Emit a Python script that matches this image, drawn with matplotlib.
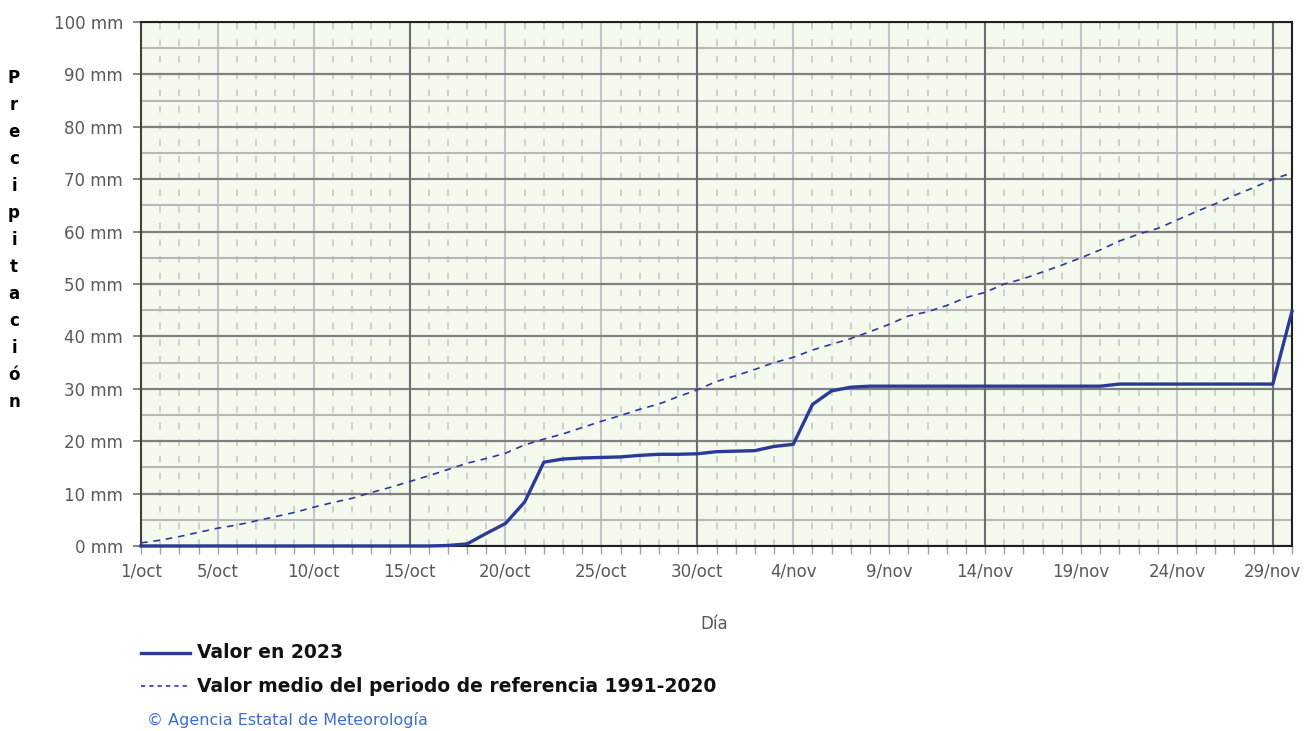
import matplotlib
matplotlib.use("Agg")
import matplotlib.pyplot as plt
from matplotlib.ticker import MultipleLocator, FixedLocator
from matplotlib.lines import Line2D

# ---------------- data ----------------
days = list(range(61))  # 0 = 1/oct ... 60 = 30/nov

valor_2023 = [0.0, 0.0, 0.0, 0.0, 0.0, 0.0, 0.0, 0.0, 0.0, 0.0,
              0.0, 0.0, 0.0, 0.0, 0.0, 0.0, 0.1, 0.4, 2.4, 4.3,
              8.4, 16.0, 16.6, 16.8, 16.9, 17.0, 17.3, 17.5, 17.5, 17.6,
              18.0, 18.1, 18.2, 19.0, 19.4, 27.0, 29.6, 30.3, 30.5, 30.5,
              30.5, 30.5, 30.5, 30.5, 30.5, 30.5, 30.5, 30.5, 30.5, 30.5,
              30.5, 30.9, 30.9, 30.9, 30.9, 30.9, 30.9, 30.9, 30.9, 30.9,
              44.8]

valor_medio = [0.6, 1.1, 1.8, 2.6, 3.4, 4.0, 4.8, 5.6, 6.4, 7.4,
               8.3, 9.1, 10.2, 11.2, 12.3, 13.4, 14.6, 15.8, 16.7, 17.7,
               19.3, 20.4, 21.4, 22.6, 23.8, 24.9, 26.1, 27.1, 28.5, 29.8,
               31.4, 32.5, 33.7, 35.0, 36.0, 37.4, 38.5, 39.6, 40.9, 42.3,
               43.9, 44.7, 45.9, 47.4, 48.4, 50.0, 51.0, 52.3, 53.6, 55.0,
               56.5, 58.2, 59.5, 60.6, 62.2, 63.8, 65.3, 66.9, 68.4, 70.0,
               71.2]

xtick_pos = [0, 4, 9, 14, 19, 24, 29, 34, 39, 44, 49, 54, 59]
xtick_labels = ['1/oct', '5/oct', '10/oct', '15/oct', '20/oct', '25/oct', '30/oct',
                '4/nov', '9/nov', '14/nov', '19/nov', '24/nov', '29/nov']
dark_days = [14, 29, 44, 59]
ytick_pos = list(range(0, 101, 10))
ytick_labels = [f'{v} mm' for v in ytick_pos]

legend_labels = ['Valor en 2023', 'Valor medio del periodo de referencia 1991-2020']
ylabel_text = 'Precipitación'
xlabel_text = 'Día'
credit_text = '© Agencia Estatal de Meteorología'

# ---------------- style ----------------
line_color = '#2b3a98'
bg_color = '#f5faef'
tick_gray = '#595959'

fig = plt.figure(figsize=(13.09, 7.31), dpi=100)
ax = fig.add_axes([141/1309, 1-546/731, (1292-141)/1309, (546-22)/731])
ax.set_facecolor(bg_color)
ax.set_xlim(0, 60)
ax.set_ylim(0, 100)

# grid
ax.xaxis.set_major_locator(FixedLocator(xtick_pos))
ax.xaxis.set_minor_locator(MultipleLocator(1))
ax.yaxis.set_major_locator(FixedLocator(ytick_pos))
ax.yaxis.set_minor_locator(MultipleLocator(5))
ax.set_axisbelow(True)
ax.xaxis.grid(True, which='major', color='#c4c4c4', lw=1.5, ls='-')
ax.xaxis.grid(True, which='minor', color='#c8c8c8', lw=1.2, ls=(0, (4, 6)))
ax.yaxis.grid(True, which='major', color='#808080', lw=1.6, ls='-')
ax.yaxis.grid(True, which='minor', color='#b8b8b8', lw=1.5, ls='-')
for d in dark_days:
    ax.axvline(d, color='#6e6e6e', lw=1.5, zorder=1.5)

ax.set_xticks(xtick_pos)
ax.set_xticklabels(xtick_labels)
ax.set_yticks(ytick_pos)
ax.set_yticklabels(ytick_labels)
ax.tick_params(axis='x', which='both', length=6, width=1, color='#a0a0a0',
               labelsize=12, labelcolor=tick_gray, pad=6)
ax.tick_params(axis='y', which='major', length=6, width=1.2, color='#707070',
               labelsize=12, labelcolor=tick_gray, pad=7)
ax.tick_params(axis='y', which='minor', length=0)

for s in ax.spines.values():
    s.set_color('#202020')
    s.set_linewidth(1.5)
ax.spines['left'].set_color('#404040')

# data lines
ax.plot(days, valor_medio, color=line_color, lw=1.2, ls=(0, (4, 3.5)), zorder=3)
ax.plot(days, valor_2023, color=line_color, lw=2.4, zorder=4, clip_on=False)

# y label as stacked letters
letters = list(ylabel_text)
y0, y1 = 78, 402
for i, ch in enumerate(letters):
    ypx = y0 + i * (y1 - y0) / (len(letters) - 1)
    fig.text(14/1309, 1 - ypx/731, ch, ha='center', va='center',
             fontsize=12, fontweight='bold', color='black')

fig.text(714/1309, 1 - 624/731, xlabel_text, ha='center', va='center',
         fontsize=12, color=tick_gray)

# legend
leg_x0, leg_x1, text_x = 141, 190, 197
for ypx, lab, ls, lw in [(653, legend_labels[0], '-', 2.4),
                         (686, legend_labels[1], (0, (2.5, 2.5)), 1.2)]:
    fig.add_artist(Line2D([leg_x0/1309, leg_x1/1309], [1 - ypx/731, 1 - ypx/731],
                          color=line_color, lw=lw, ls=ls, transform=fig.transFigure))
    fig.text(text_x/1309, 1 - ypx/731, lab, ha='left', va='center',
             fontsize=13.5, fontweight='bold', color='#111111')

fig.text(147/1309, 1 - 720/731, credit_text, ha='left', va='center',
         fontsize=11.5, color='#3a6fd0')

fig.savefig('out.png', dpi=100, facecolor='white')
